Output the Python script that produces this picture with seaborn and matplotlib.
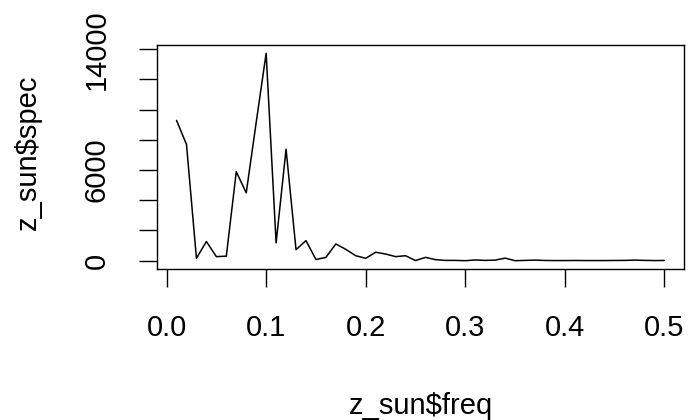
import matplotlib
matplotlib.use("Agg")
import matplotlib.pyplot as plt
import seaborn as sns
import pandas as pd

# periodogram of sunspot series
freq = [0.01, 0.02, 0.03, 0.04, 0.05, 0.06, 0.07, 0.08, 0.09, 0.10,
        0.11, 0.12, 0.13, 0.14, 0.15, 0.16, 0.17, 0.18, 0.19, 0.20,
        0.21, 0.22, 0.23, 0.24, 0.25, 0.26, 0.27, 0.28, 0.29, 0.30,
        0.31, 0.32, 0.33, 0.34, 0.35, 0.36, 0.37, 0.38, 0.39, 0.40,
        0.41, 0.42, 0.43, 0.44, 0.45, 0.46, 0.47, 0.48, 0.49, 0.50]
spec = [9290, 7700, 160, 1270, 270, 300, 5890, 4490, 9150, 13730,
        1180, 7380, 730, 1330, 80, 220, 1110, 750, 330, 160,
        560, 440, 270, 330, 10, 220, 70, 20, 20, 0,
        50, 20, 40, 170, 0, 20, 40, 15, 10, 10,
        15, 10, 10, 10, 15, 20, 40, 20, 10, 15]

yticks = [0, 2000, 4000, 6000, 8000, 10000, 12000, 14000]
ylabels = ["0", "", "", "6000", "", "", "", "14000"]
xticks = [0.0, 0.1, 0.2, 0.3, 0.4, 0.5]
xlabels = ["0.0", "0.1", "0.2", "0.3", "0.4", "0.5"]

df = pd.DataFrame({"freq": freq, "spec": spec})

sns.set_style("white")
plt.rcParams['font.family'] = ['Liberation Sans', 'DejaVu Sans']

fig = plt.figure(figsize=(6.93, 4.2), dpi=100)
ax = fig.add_axes([157 / 693, 1 - 269 / 420, 527 / 693, 224 / 420])

sns.lineplot(data=df, x="freq", y="spec", color="black", linewidth=1.1, ax=ax)

xr = max(freq) - min(freq)
ax.set_xlim(min(freq) - 0.04 * xr, max(freq) + 0.04 * xr)
yr = max(spec) - min(spec)
ax.set_ylim(min(spec) - 0.04 * yr, max(spec) + 0.04 * yr)

ax.set_xticks(xticks)
ax.set_xticklabels(xlabels)
ax.set_yticks(yticks)
ax.set_yticklabels(ylabels, rotation=90, va="center")

for s in ax.spines.values():
    s.set_visible(True)
    s.set_color("black")
    s.set_linewidth(1.0)

ax.tick_params(axis="both", direction="out", length=13.3, width=1.0,
               color="black", labelsize=21, labelcolor="black")
ax.tick_params(axis="x", pad=19)
ax.tick_params(axis="y", pad=20)
ax.tick_params(bottom=True, left=True, top=False, right=False)

ax.set_xlabel("z_sun$freq", fontsize=21, va="center", color="black")
ax.set_ylabel("z_sun$spec", fontsize=21, va="center", color="black")
ax.xaxis.set_label_coords(0.5, -0.612)
ax.yaxis.set_label_coords(-0.245, 0.52)

fig.savefig("out.png", dpi=100, facecolor="white")
